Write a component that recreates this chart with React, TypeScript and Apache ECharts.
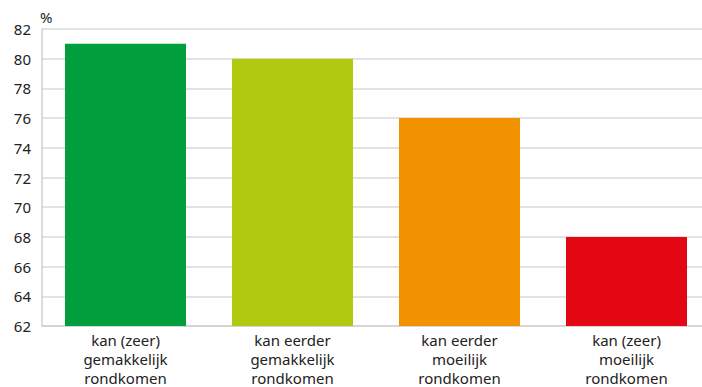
import React, { useEffect, useRef } from "react";
import * as echarts from "echarts";

const categories = [
  "kan (zeer)\ngemakkelijk\nrondkomen",
  "kan eerder\ngemakkelijk\nrondkomen",
  "kan eerder\nmoeilijk\nrondkomen",
  "kan (zeer)\nmoeilijk\nrondkomen",
];
const values = [81, 80, 76, 68];
const colors = ["#009E3D", "#B1C90E", "#F39200", "#E30613"];
const yMin = 62;
const yMax = 82;
const yStep = 2;

export default function App() {
  const ref = useRef<HTMLDivElement>(null);
  useEffect(() => {
    if (!ref.current) return;
    document.body.style.overflow = "hidden";
    const chart = echarts.init(ref.current, undefined, { renderer: "svg" });
    chart.setOption({
      animation: false,
      textStyle: { fontFamily: "Noto Sans" },
      grid: { left: 42, width: 668, top: 29, height: 299 },
      graphic: [
        {
          type: "text",
          left: 40,
          top: 9,
          style: { text: "%", fontSize: 15, fill: "#222", fontFamily: "Noto Sans" },
        },
      ],
      xAxis: {
        type: "category",
        data: categories,
        axisLine: { show: true, lineStyle: { color: "#d0d0d0", width: 1.5 } },
        axisTick: { show: false },
        axisLabel: {
          color: "#222",
          fontSize: 15,
          lineHeight: 19,
          margin: 4,
          interval: 0,
        },
      },
      yAxis: {
        type: "value",
        min: yMin,
        max: yMax,
        interval: yStep,
        axisLine: { show: true, lineStyle: { color: "#d0d0d0", width: 1.5 } },
        axisTick: { show: false },
        splitLine: { lineStyle: { color: "#d9d9d9", width: 1.5 } },
        axisLabel: { color: "#222", fontSize: 15, margin: 11 },
      },
      series: [
        {
          type: "bar",
          data: values.map((v, i) => ({ value: v, itemStyle: { color: colors[i] } })),
          barWidth: 121,
        },
      ],
    });
    return () => chart.dispose();
  }, []);
  return (
    <div style={{ position: "absolute", left: 0, top: 0, width: 702, height: 387, overflow: "hidden" }}>
      <div ref={ref} style={{ width: 720, height: 387 }} />
    </div>
  );
}
